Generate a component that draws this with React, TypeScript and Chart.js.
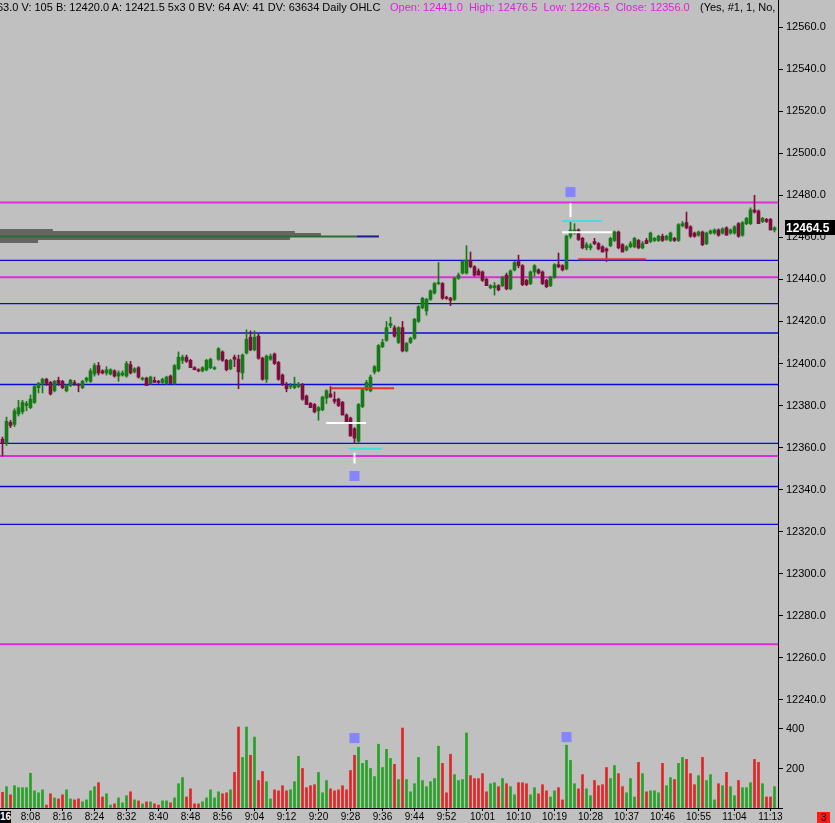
import React, { useEffect, useRef } from "react";
import { Chart, registerables } from "chart.js";

Chart.register(...registerables);

// ---- 1-minute OHLC bars, 8:01 .. 11:14 ----
const opens = [
  12364, 12362, 12372, 12371, 12376, 12377, 12380, 12379, 12381.5, 12388.5,
  12390.5, 12392.5, 12391, 12387, 12392, 12391.5, 12387, 12389.5, 12391, 12390,
  12388.5, 12392, 12391.5, 12395, 12399, 12396.5, 12395.5, 12395, 12396.5, 12394,
  12394.5, 12394, 12399.5, 12396, 12398, 12392.5, 12393, 12390.5, 12392, 12391.5,
  12391, 12390.5, 12394, 12390.5, 12397.5, 12401.5, 12403, 12401.5, 12398, 12397,
  12396.5, 12397, 12398, 12397.5, 12402, 12405.5, 12401.5, 12397.5, 12403, 12402,
  12395.5, 12405, 12412.5, 12406.5, 12413, 12402.5, 12392.5, 12402, 12404.5, 12400.5,
  12394.5, 12389.5, 12389, 12388.5, 12389, 12390, 12384.5, 12381, 12380.5, 12377.5,
  12378, 12383.5, 12385.5, 12383, 12383, 12381.5, 12375.5, 12374, 12369, 12363,
  12379.5, 12387.5, 12387, 12396, 12396.5, 12408, 12411, 12418, 12417, 12410,
  12417, 12406, 12410, 12412, 12420, 12426.5, 12425, 12430.5, 12433.5, 12438,
  12438, 12431.5, 12431, 12430.5, 12440.5, 12443, 12443, 12449, 12446, 12444,
  12443.5, 12440, 12436, 12436, 12437, 12437, 12442, 12435.5, 12444.5, 12448.5,
  12446.5, 12439.5, 12438, 12443.5, 12444.5, 12443.5, 12439.5, 12437, 12441, 12447,
  12446.5, 12445, 12460.5, 12462, 12463.5, 12459.5, 12455, 12455, 12458, 12457,
  12455.5, 12454.5, 12456, 12458.5, 12462.5, 12456.5, 12454, 12455.5, 12455.5, 12458.5,
  12455, 12458.5, 12458, 12458.5, 12458.5, 12460.5, 12459, 12458.5, 12459.5, 12458.5,
  12465.5, 12467, 12465, 12462, 12461, 12462.5, 12457, 12462, 12462, 12463.5,
  12462, 12464.5, 12462, 12462, 12466.5, 12461, 12466.5, 12466.5, 12473, 12472.5,
  12467.5, 12468.5, 12468.5, 12463.5,
];
const highs = [
  12365, 12374.5, 12373, 12378.5, 12382.5, 12382.5, 12382, 12385, 12389.5, 12391,
  12393, 12393, 12391.5, 12392, 12393.5, 12392, 12390, 12392.5, 12392, 12390.5,
  12392, 12393.5, 12397.5, 12400, 12400.5, 12397, 12398.5, 12397.5, 12397, 12396.5,
  12396.5, 12401, 12401, 12398, 12398.5, 12393.5, 12393.5, 12394, 12393.5, 12392,
  12393, 12394, 12394.5, 12399.5, 12405.5, 12404, 12404, 12402, 12398.5, 12397.5,
  12398.5, 12402, 12402.5, 12398.5, 12407.5, 12406, 12402, 12402, 12404, 12404,
  12404.5, 12416, 12415.5, 12415.5, 12414, 12403, 12404, 12404.5, 12405, 12401,
  12395, 12391, 12390.5, 12393.5, 12391, 12390.5, 12385, 12381.5, 12381, 12379.5,
  12384.5, 12387.5, 12389, 12386.5, 12383.5, 12382, 12376, 12374.5, 12369.5, 12381,
  12388, 12392, 12394.5, 12399, 12409, 12411.5, 12420, 12422, 12418, 12417.5,
  12420, 12410, 12412.5, 12421.5, 12427.5, 12431.5, 12431, 12435, 12438.5, 12448,
  12438.5, 12432, 12431.5, 12441, 12443, 12449, 12456, 12453, 12446.5, 12445,
  12444, 12440.5, 12437.5, 12438.5, 12437.5, 12441.5, 12443, 12444.5, 12448.5, 12451.5,
  12447, 12440, 12444, 12447, 12445, 12444, 12440, 12441.5, 12447.5, 12452.5,
  12447, 12461, 12468, 12466.5, 12464, 12460, 12457.5, 12457, 12459.5, 12457.5,
  12456, 12455, 12460, 12463, 12463, 12457, 12456, 12458, 12460, 12459,
  12458, 12459.5, 12462.5, 12460, 12461, 12461.5, 12461, 12462.5, 12460, 12466.5,
  12467.5, 12472, 12465.5, 12462.5, 12463, 12463, 12462.5, 12463.5, 12464, 12464,
  12464.5, 12465, 12464, 12465.5, 12467, 12467.5, 12469.5, 12474, 12480, 12473,
  12469.5, 12469, 12469, 12465,
];
const lows = [
  12356, 12361, 12369.5, 12370, 12375, 12376, 12377.5, 12378.5, 12381, 12386,
  12386, 12389.5, 12385, 12386.5, 12389.5, 12388, 12386.5, 12389, 12389.5, 12386.5,
  12388, 12391, 12391, 12394, 12394.5, 12395, 12394.5, 12394.5, 12393.5, 12391.5,
  12394, 12393.5, 12395, 12395.5, 12393, 12392, 12389.5, 12390, 12391, 12390.5,
  12390.5, 12390, 12390.5, 12390, 12397, 12400, 12400.5, 12398, 12397, 12396,
  12396, 12396.5, 12397.5, 12397, 12401.5, 12401, 12396.5, 12397, 12398.5, 12388,
  12392.5, 12404.5, 12406, 12406, 12402, 12392, 12391, 12401.5, 12399.5, 12392,
  12389.5, 12386.5, 12388, 12388, 12388.5, 12382.5, 12380.5, 12379, 12376.5, 12373,
  12377.5, 12381, 12384, 12381, 12379.5, 12375.5, 12371.5, 12365.5, 12362, 12362.5,
  12379, 12387, 12386.5, 12395, 12396, 12407.5, 12410.5, 12417, 12412.5, 12409.5,
  12405.5, 12405.5, 12409.5, 12411.5, 12419.5, 12426, 12423, 12430, 12433, 12437.5,
  12430.5, 12430.5, 12427.5, 12430, 12440, 12442.5, 12442.5, 12445.5, 12441.5, 12442,
  12439, 12437, 12435.5, 12432.5, 12434.5, 12436.5, 12435, 12435, 12444, 12445.5,
  12437, 12437, 12437.5, 12441.5, 12442.5, 12437.5, 12436, 12436.5, 12440.5, 12445.5,
  12444, 12444.5, 12459.5, 12461.5, 12458.5, 12454.5, 12454, 12454, 12456.5, 12454,
  12453, 12448.5, 12455.5, 12458, 12454.5, 12453, 12453.5, 12455, 12455, 12454.5,
  12454.5, 12457, 12457.5, 12458, 12458, 12458, 12458.5, 12458, 12458, 12458,
  12465, 12464, 12460, 12460, 12460.5, 12456, 12456.5, 12461.5, 12461.5, 12460.5,
  12461.5, 12461, 12461.5, 12461.5, 12460, 12460.5, 12466, 12466, 12471.5, 12466.5,
  12467, 12467, 12463.5, 12462.5,
];
const closes = [
  12362, 12372.5, 12370.5, 12377.5, 12379, 12381.5, 12381, 12383, 12389, 12390.5,
  12392.5, 12390.5, 12385.5, 12391.5, 12390.5, 12388.5, 12389.5, 12392, 12390.5, 12389.5,
  12391.5, 12393, 12396.5, 12399, 12395.5, 12395.5, 12397, 12397, 12394, 12395.5,
  12395.5, 12400, 12395.5, 12397.5, 12393.5, 12393, 12389.5, 12393.5, 12391, 12391,
  12392.5, 12393.5, 12390.5, 12399, 12403, 12403, 12401, 12398, 12397, 12396.5,
  12398, 12401.5, 12402, 12398, 12407, 12401.5, 12397, 12401.5, 12402, 12396,
  12404, 12411.5, 12406.5, 12412.5, 12402.5, 12392.5, 12403.5, 12403.5, 12400, 12392.5,
  12390, 12388, 12389.5, 12389.5, 12390, 12383, 12380.5, 12379, 12377, 12379,
  12384, 12387, 12384, 12382, 12380, 12375.5, 12372, 12365.5, 12364.5, 12380.5,
  12387.5, 12391, 12393.5, 12398.5, 12408.5, 12410, 12417, 12419, 12413, 12417,
  12406, 12409.5, 12412, 12421, 12427, 12431, 12430.5, 12434.5, 12438, 12438.5,
  12431, 12431, 12430, 12440.5, 12442, 12448.5, 12449, 12446, 12442, 12442,
  12439.5, 12437, 12437, 12437, 12435, 12441, 12435.5, 12444, 12448, 12446.5,
  12437.5, 12437.5, 12443.5, 12446.5, 12443, 12438, 12436.5, 12441, 12447, 12446,
  12444.5, 12460.5, 12463.5, 12463.5, 12459, 12455, 12456.5, 12456, 12457, 12454.5,
  12453, 12453.5, 12459.5, 12462.5, 12455, 12453, 12455.5, 12457, 12459.5, 12455,
  12457, 12457, 12462, 12459.5, 12460.5, 12458.5, 12460.5, 12462, 12458.5, 12466,
  12466.5, 12464.5, 12460.5, 12460.5, 12462.5, 12456.5, 12462, 12463, 12463.5, 12461,
  12464, 12461, 12463.5, 12465, 12460.5, 12467, 12469, 12473, 12472, 12466.5,
  12469, 12467.5, 12463.5, 12464.5,
];
const volumes = [
  79, 108, 67, 113, 103, 103, 103, 176, 87, 77,
  92, 15, 72, 51, 46, 67, 92, 46, 41, 46,
  31, 41, 87, 108, 128, 56, 72, 15, 21, 51,
  26, 62, 82, 41, 36, 21, 31, 31, 21, 15,
  36, 36, 26, 51, 123, 154, 56, 97, 21, 21,
  31, 51, 92, 51, 82, 72, 77, 92, 180, 410,
  256, 410, 267, 359, 139, 185, 133, 46, 92, 87,
  113, 87, 92, 133, 262, 200, 103, 113, 118, 180,
  77, 139, 97, 87, 92, 113, 92, 190, 267, 308,
  226, 241, 200, 159, 323, 205, 297, 251, 221, 144,
  405, 144, 82, 123, 256, 139, 108, 133, 149, 313,
  226, 77, 272, 169, 139, 144, 380, 164, 149, 149,
  174, 82, 123, 128, 108, 149, 123, 108, 67, 128,
  128, 123, 67, 103, 72, 118, 87, 56, 87, 103,
  41, 318, 241, 123, 97, 169, 97, 62, 139, 113,
  118, 205, 149, 215, 174, 108, 77, 149, 56, 231,
  174, 82, 87, 87, 77, 226, 113, 154, 144, 226,
  256, 246, 174, 118, 164, 256, 139, 169, 41, 123,
  113, 180, 108, 62, 139, 103, 103, 128, 246, 231,
  123, 56, 56, 108,
];

// ---- time axis ----
const timeTickIndex = [7, 15, 23, 31, 39, 47, 55, 63, 71, 79, 87, 95, 103, 111, 120, 129, 138, 147, 156, 165, 174, 183, 192];
const timeTickLabels = ["8:08", "8:16", "8:24", "8:32", "8:40", "8:48", "8:56", "9:04", "9:12", "9:20", "9:28", "9:36", "9:44", "9:52", "10:01", "10:10", "10:19", "10:28", "10:37", "10:46", "10:55", "11:04", "11:13"];

// ---- horizontal levels ----
const blueLevels = [12449, 12428.5, 12414.5, 12390, 12362, 12341.5, 12323.5];
const magentaLevels = [12476.5, 12441, 12356, 12266.5];

// ---- short level segments (value, start bar, end bar) ----
const redSegValues = [12388.2, 12449.6];
const redSegStart = [82.05, 143.9];
const redSegEnd = [97.9, 160.9];
const whiteSegValues = [12371.7, 12462.4];
const whiteSegStart = [80.9, 139.9];
const whiteSegEnd = [90.9, 152.4];
const cyanSegValues = [12359.4, 12467.8];
const cyanSegStart = [86.6, 139.9];
const cyanSegEnd = [94.9, 149.9];
const whiteTickBar = [88, 142];
const whiteTickFrom = [12357.5, 12476.3];
const whiteTickTo = [12352.4, 12469.5];

// ---- square markers ----
const priceMarkerBar = [88, 142];
const priceMarkerValue = [12346.5, 12481.5];
const volMarkerBar = [88, 141];
const volMarkerValue = [354, 359];

// ---- volume profile (price row, end bar) ----
const profilePrices = [12463.2, 12462.3, 12461.3, 12459.4, 12458.0];
const profileEnds = [12.6, 73.1, 79.6, 71.9, 8.9];
const pocPrice = 12460.4;
const pocGreenEnd = 88.6;
const pocBlueEnd = 94.1;

const FONT = '"Liberation Sans", Arial, sans-serif';
const GREEN_CANDLE = "#167a16";
const MAROON_CANDLE = "#7d0f3d";
const GREEN_VOL = "#25a325";
const RED_VOL = "#e02626";
const BLUE = "#0a0ad8";
const MAGENTA = "#dd2cdd";
const X_MIN = -0.625;
const X_MAX = 193.875;

const lastPricePlugin = {
  id: "lastPrice",
  afterDraw(chart: any) {
    const ys = chart.scales.y;
    const last = closes[closes.length - 1];
    const py = Math.round(ys.getPixelForValue(last));
    const ctx = chart.ctx;
    const x0 = chart.chartArea.right + 7;
    ctx.save();
    ctx.fillStyle = "#000";
    ctx.fillRect(x0, py - 8, 50, 15);
    ctx.fillStyle = "#fff";
    ctx.font = `bold 12px ${FONT}`;
    ctx.textBaseline = "middle";
    ctx.textAlign = "left";
    ctx.fillText(last.toFixed(1), x0 + 1, py + 0.5);
    ctx.restore();
  },
};

function hLine(value: number, from: number, to: number, color: string, width: number, axis = "y") {
  return {
    type: "line" as const,
    yAxisID: axis,
    data: [
      { x: from, y: value },
      { x: to, y: value },
    ],
    borderColor: color,
    borderWidth: width,
    borderCapStyle: "butt",
    pointRadius: 0,
    fill: false,
    tension: 0,
  };
}

export default function App() {
  const ref = useRef<HTMLCanvasElement>(null);

  useEffect(() => {
    const idx = closes.map((_, i) => i);
    const isUp = (i: number) => closes[i] >= opens[i];
    const candleColors = idx.map((i) => (isUp(i) ? GREEN_CANDLE : MAROON_CANDLE));
    const volColors = idx.map((i) => (isUp(i) ? GREEN_VOL : RED_VOL));

    const datasets: any[] = [];
    // markers (top-most)
    datasets.push({
      type: "line",
      yAxisID: "y",
      showLine: false,
      data: priceMarkerBar.map((b, k) => ({ x: b, y: priceMarkerValue[k] })),
      pointStyle: "rect",
      pointRadius: 7.1,
      pointBackgroundColor: "#8585ff",
      pointBorderWidth: 0,
    });
    datasets.push({
      type: "line",
      yAxisID: "yv",
      showLine: false,
      data: volMarkerBar.map((b, k) => ({ x: b, y: volMarkerValue[k] })),
      pointStyle: "rect",
      pointRadius: 7.1,
      pointBackgroundColor: "#8585ff",
      pointBorderWidth: 0,
    });
    whiteTickBar.forEach((b, k) => {
      datasets.push({
        type: "line",
        yAxisID: "y",
        data: [
          { x: b, y: whiteTickFrom[k] },
          { x: b, y: whiteTickTo[k] },
        ],
        borderColor: "#ffffff",
        borderWidth: 2,
        pointRadius: 0,
      });
    });
    redSegValues.forEach((v, k) => datasets.push(hLine(v, redSegStart[k], redSegEnd[k], "#e03232", 2)));
    whiteSegValues.forEach((v, k) => datasets.push(hLine(v, whiteSegStart[k], whiteSegEnd[k], "#ffffff", 2)));
    cyanSegValues.forEach((v, k) => datasets.push(hLine(v, cyanSegStart[k], cyanSegEnd[k], "#45dede", 2)));

    // candle bodies
    datasets.push({
      type: "bar",
      yAxisID: "y",
      data: idx.map((i) => ({ x: i, y: [opens[i], closes[i]] })),
      backgroundColor: candleColors,
      barThickness: 3,
      grouped: false,
      minBarLength: 1,
      borderWidth: 0,
    });
    // wicks
    datasets.push({
      type: "bar",
      yAxisID: "y",
      data: idx.map((i) => ({ x: i, y: [lows[i], highs[i]] })),
      backgroundColor: candleColors,
      barThickness: 1,
      grouped: false,
      borderWidth: 0,
    });
    // volume
    datasets.push({
      type: "bar",
      yAxisID: "yv",
      data: idx.map((i) => ({ x: i, y: volumes[i] })),
      backgroundColor: volColors,
      barThickness: 2,
      grouped: false,
      borderWidth: 0,
    });
    // volume profile
    datasets.push(hLine(pocPrice, pocGreenEnd, pocBlueEnd, "#1a1a90", 2));
    datasets.push(hLine(pocPrice, X_MIN, pocGreenEnd, "#2f6a2f", 2));
    profilePrices.forEach((p, k) => datasets.push(hLine(p, X_MIN, profileEnds[k], "#656565", 3)));
    // levels
    blueLevels.forEach((v) => datasets.push(hLine(v, X_MIN, X_MAX, BLUE, 1.3)));
    magentaLevels.forEach((v) => datasets.push(hLine(v, X_MIN, X_MAX, MAGENTA, 2)));

    const tickFont = { family: FONT, size: 11 };

    const chart = new Chart(ref.current as HTMLCanvasElement, {
      type: "bar",
      data: { datasets },
      options: {
        responsive: false,
        animation: false,
        events: [],
        layout: { padding: 0, autoPadding: false },
        plugins: {
          legend: { display: false },
          tooltip: { enabled: false },
          title: { display: false },
        },
        scales: {
          x: {
            type: "linear",
            min: X_MIN,
            max: X_MAX,
            offset: false,
            grid: { display: true, drawOnChartArea: false, drawTicks: true, tickLength: 3, color: "#000", offset: false },
            border: { display: true, color: "#000" },
            ticks: {
              autoSkip: false,
              maxRotation: 0,
              minRotation: 0,
              padding: 0,
              color: "#000",
              font: { family: FONT, size: 10 },
              callback: (v: any) => {
                const k = timeTickIndex.indexOf(Number(v));
                return k >= 0 ? timeTickLabels[k] : "";
              },
            },
            afterBuildTicks: (s: any) => {
              s.ticks = timeTickIndex.map((v) => ({ value: v }));
            },
            afterFit: (s: any) => {
              s.height = 15;
              s.paddingLeft = 0;
              s.paddingRight = 0;
            },
          },
          y: {
            type: "linear",
            position: "right",
            stack: "panes",
            stackWeight: 712,
            min: 12234.27,
            max: 12572.84,
            beginAtZero: false,
            grid: { display: true, drawOnChartArea: false, drawTicks: true, tickLength: 5, color: "#000" },
            border: { display: true, color: "#000" },
            ticks: {
              stepSize: 20,
              includeBounds: false,
              padding: 3,
              color: "#000",
              font: tickFont,
              callback: (v: any) => Number(v).toFixed(1),
            },
            afterFit: (s: any) => {
              s.width = 57;
              s.paddingTop = 0;
              s.paddingBottom = 0;
            },
          },
          yv: {
            type: "linear",
            position: "right",
            stack: "panes",
            stackWeight: 96,
            min: 0,
            max: 486,
            beginAtZero: false,
            grid: { display: true, drawOnChartArea: false, drawTicks: true, tickLength: 5, color: "#000" },
            border: { display: true, color: "#000" },
            ticks: {
              stepSize: 200,
              includeBounds: false,
              padding: 3,
              color: "#000",
              font: tickFont,
              callback: (v: any) => (Number(v) === 0 ? "" : String(v)),
            },
            afterFit: (s: any) => {
              s.width = 57;
              s.paddingTop = 0;
              s.paddingBottom = 0;
            },
          },
        },
      } as any,
      plugins: [lastPricePlugin],
    });
    return () => chart.destroy();
  }, []);

  const headerFont = `11px ${FONT}`;
  return (
    <div
      style={{
        position: "fixed",
        left: 0,
        top: 0,
        width: 835,
        height: 823,
        background: "#c0c0c0",
        overflow: "hidden",
      }}
    >
      <canvas ref={ref} width={835} height={823} style={{ position: "absolute", left: 0, top: 0 }} />
      <div style={{ position: "absolute", left: 0, top: 0, width: 778, height: 16, overflow: "hidden" }}>
        <span style={{ position: "absolute", left: -3, top: 1, whiteSpace: "pre", font: headerFont, color: "#000" }}>
          63.0 V: 105 B: 12420.0 A: 12421.5 5x3 0 BV: 64 AV: 41 DV: 63634 Daily OHLC
        </span>
        <span style={{ position: "absolute", left: 390, top: 1, whiteSpace: "pre", font: headerFont, color: "#dd22dd" }}>
          Open: 12441.0  High: 12476.5  Low: 12266.5  Close: 12356.0
        </span>
        <span style={{ position: "absolute", left: 700, top: 1, whiteSpace: "pre", font: headerFont, color: "#000" }}>
          (Yes, #1, 1, No,
        </span>
      </div>
      <div
        style={{
          position: "absolute",
          left: 0,
          top: 811,
          width: 11,
          height: 12,
          background: "#000",
          color: "#fff",
          font: `bold 10px ${FONT}`,
          lineHeight: "12px",
          textAlign: "right",
          overflow: "hidden",
        }}
      >
        16
      </div>
      <div
        style={{
          position: "absolute",
          left: 817,
          top: 812,
          width: 13,
          height: 11,
          background: "#ff1a1a",
          color: "#200000",
          font: `10px ${FONT}`,
          lineHeight: "11px",
          textAlign: "center",
        }}
      >
        3
      </div>
    </div>
  );
}
